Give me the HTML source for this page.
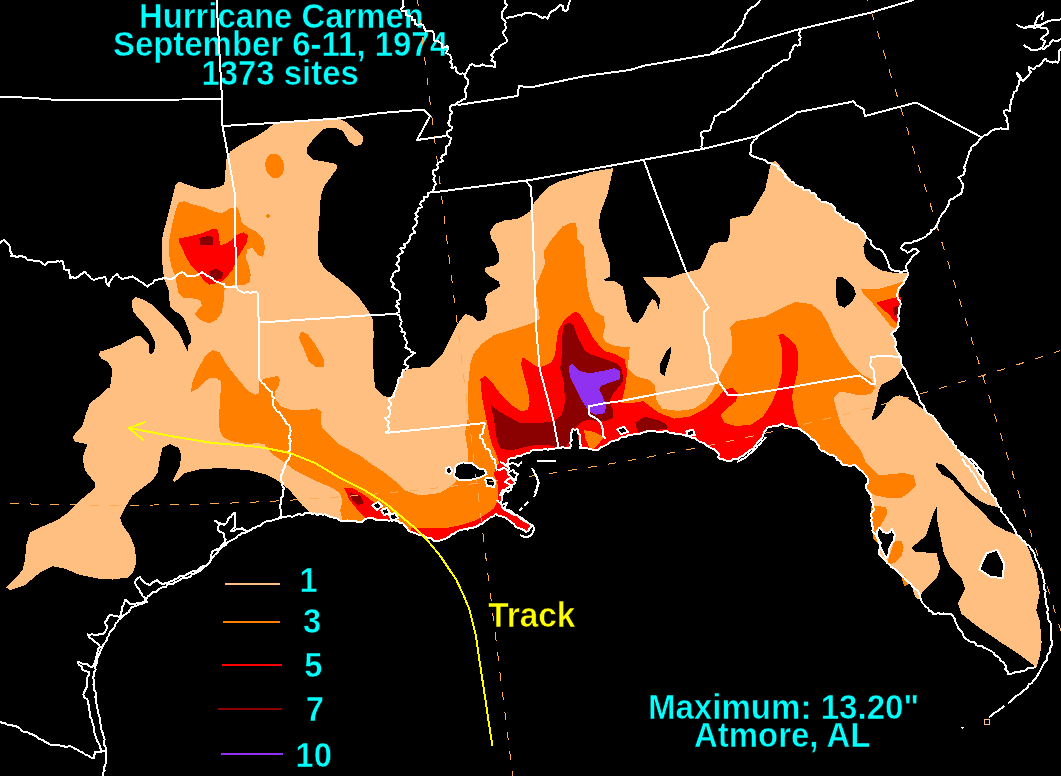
<!DOCTYPE html>
<html><head><meta charset="utf-8"><title>Hurricane Carmen rainfall</title>
<style>html,body{margin:0;padding:0;background:#000;}svg{display:block;} polygon,ellipse,polyline,line{shape-rendering:crispEdges;}text{font-family:'Liberation Sans',Arial,sans-serif;font-weight:bold;font-size:100px;}</style></head>
<body><svg width="1061" height="776" viewBox="0 0 1061 776">
<rect width="1061" height="776" fill="#000"/>
<polygon points="164.1,230.0 168.3,213.7 172.4,197.1 175.6,184.6 179.7,181.5 187.0,184.6 199.4,188.8 209.8,188.8 220.1,186.7 224.3,184.6 225.3,172.2 226.3,159.8 230.5,151.5 242.9,143.2 255.4,137.0 267.8,128.7 274.0,123.5 294.8,121.4 317.6,120.4 340.4,119.3 346.6,122.4 357.0,130.7 363.2,137.0 362.2,144.2 354.9,146.3 348.7,141.1 342.5,130.7 334.2,127.6 323.8,128.7 313.4,139.0 307.2,147.3 307.2,153.5 313.4,159.8 325.9,161.8 336.2,163.9 337.3,168.1 330.0,178.4 323.8,186.7 320.7,197.1 319.7,213.7 318.6,230.0 317.5,244.0 318.8,259.0 325.0,269.0 335.0,276.5 347.5,286.5 360.0,299.0 368.8,311.5 372.5,319.0 373.8,334.0 372.5,354.0 373.8,374.0 375.0,388.0 382.5,395.5 390.0,398.0 395.0,390.5 397.5,386.0 401.0,374.0 407.5,369.0 430.0,366.5 442.5,354.0 450.0,339.0 457.5,324.0 465.0,314.0 472.5,316.5 477.5,321.5 485.0,319.0 487.5,309.0 485.0,299.0 487.5,294.0 500.0,286.5 498.8,281.5 490.0,276.5 485.0,271.5 485.0,267.8 495.0,265.2 498.8,261.5 498.8,254.0 495.0,244.0 491.2,239.0 490.0,231.5 495.0,224.0 505.0,220.2 517.5,219.0 526.2,214.0 530.0,211.5 532.0,206.0 536.0,200.0 539.0,197.0 545.0,190.0 550.6,185.5 560.0,181.0 569.2,178.6 592.4,171.6 613.3,168.1 607.5,194.0 600.0,214.0 598.8,226.5 602.5,241.5 607.5,254.0 610.0,264.0 610.0,276.5 602.5,280.2 615.0,281.5 622.5,286.5 625.0,296.5 627.5,311.5 632.5,321.5 637.5,322.8 642.5,316.5 647.5,306.5 652.5,299.0 656.2,301.5 658.8,310.2 660.0,299.0 655.0,291.5 647.5,284.0 642.5,276.5 655.0,276.5 670.0,277.8 680.0,274.0 690.0,271.5 700.0,269.0 705.0,259.0 710.0,246.5 715.0,242.8 727.5,241.5 730.0,234.0 730.0,219.0 740.0,216.5 750.0,215.2 755.0,206.5 762.5,194.0 765.0,190.0 771.0,162.5 776.0,161.0 795.0,185.0 813.5,193.0 821.0,201.5 831.0,204.0 837.2,212.8 847.2,220.2 857.2,224.0 862.2,230.2 867.2,237.8 863.5,246.5 864.8,256.5 871.0,264.0 881.0,270.2 893.5,272.8 906.0,272.8 908.5,274.0 903.5,284.0 898.5,289.0 897.2,296.5 901.0,304.0 898.5,314.0 898.5,326.5 891.0,334.0 894.8,339.0 896.0,349.0 898.0,353.0 901.0,356.0 901.2,363.2 903.1,367.1 896.7,376.1 889.0,381.2 881.2,385.1 878.7,391.5 876.1,404.4 872.2,417.3 871.6,420.5 876.1,418.6 881.2,413.5 886.4,404.4 894.1,396.7 899.3,395.4 907.0,398.0 914.7,403.1 923.8,409.6 925.1,410.2 930.2,414.7 936.0,420.5 948.5,438.0 958.5,450.5 971.0,463.0 981.0,475.5 988.0,487.0 993.5,497.0 998.8,507.3 988.0,504.9 978.8,500.3 966.4,491.0 955.6,477.1 943.2,464.7 936.2,463.2 936.2,466.3 941.6,474.0 952.5,480.2 960.2,489.5 969.5,500.3 981.8,511.1 992.7,523.5 1006.6,531.2 1015.9,534.3 1021.0,538.0 1029.2,549.8 1036.3,571.1 1039.8,592.5 1036.3,610.3 1039.8,620.9 1041.6,642.3 1039.8,656.5 1036.3,667.2 1022.1,656.5 1000.7,642.3 979.4,628.0 961.6,613.8 958.0,603.1 965.2,588.9 961.6,578.2 950.9,567.6 943.8,553.4 940.3,535.6 936.7,517.8 936.7,507.1 933.1,514.2 926.0,535.6 915.4,544.5 911.1,548.0 915.4,551.6 936.7,553.4 940.3,567.6 936.7,578.2 929.6,585.4 922.5,592.5 918.9,599.6 915.0,597.0 911.8,585.4 901.1,574.7 893.5,568.0 886.0,560.5 878.5,553.0 881.0,543.0 873.5,533.0 871.0,520.5 873.5,508.0 871.0,495.5 866.0,488.0 868.5,480.5 863.5,473.0 856.0,465.5 843.5,465.5 833.5,455.5 821.0,450.5 818.5,445.5 813.3,439.9 807.5,434.1 797.8,428.3 788.2,426.3 780.4,424.4 774.7,426.3 766.9,428.3 763.1,436.0 755.3,445.7 745.7,453.4 736.0,459.2 728.3,461.1 720.5,459.2 716.7,451.5 707.0,445.7 697.3,439.9 687.7,436.0 678.0,434.1 664.5,431.2 645.1,432.1 635.5,434.1 620.0,437.9 615.0,440.5 605.0,445.5 595.0,450.5 580.0,448.0 570.0,448.0 557.5,448.0 545.0,449.2 535.0,450.0 526.3,453.4 517.3,456.1 508.2,459.7 508.2,474.1 511.9,477.7 515.5,483.1 510.0,486.8 506.4,488.6 501.9,495.8 501.0,503.0 502.8,508.4 510.0,512.0 519.1,517.4 526.3,521.0 531.7,526.4 526.3,531.9 519.1,528.2 511.9,522.8 504.6,517.4 495.6,513.8 490.2,517.4 484.8,521.0 479.4,524.6 472.2,528.2 459.5,530.1 454.1,533.7 445.1,539.1 434.3,540.9 423.5,535.5 410.8,531.9 405.0,526.0 397.5,521.0 385.0,520.0 370.0,518.0 360.0,521.8 340.0,520.5 327.5,515.5 310.0,513.0 302.5,505.5 290.0,490.5 277.5,480.5 265.0,474.2 250.0,470.5 237.5,469.2 220.0,468.0 200.0,469.2 185.0,473.0 175.0,481.8 172.5,480.5 180.0,465.5 181.2,455.5 178.8,448.0 170.0,444.2 162.5,448.0 160.0,458.0 157.5,473.0 152.5,480.5 142.5,488.0 132.5,495.5 125.0,508.0 120.0,518.0 122.5,525.0 130.0,535.5 135.0,548.0 136.2,563.0 133.0,572.0 127.5,577.5 112.5,579.5 100.0,578.8 80.0,575.0 65.0,568.8 52.5,566.2 40.0,572.5 25.0,585.0 10.0,590.0 6.2,587.5 15.0,578.8 22.5,570.0 25.0,560.0 26.2,545.0 30.0,532.5 40.0,527.5 57.5,520.0 67.5,513.0 80.0,500.5 95.0,488.0 95.0,483.0 85.0,470.5 82.5,458.0 85.0,450.5 87.5,444.2 75.0,441.8 72.5,436.8 82.5,425.5 86.2,413.0 90.0,403.0 100.0,395.5 107.5,388.0 110.0,388.0 112.5,369.0 107.5,361.5 101.4,358.8 98.3,354.1 100.4,351.5 110.7,348.4 121.1,344.3 131.5,338.1 137.7,335.5 140.8,336.0 145.0,340.1 148.6,344.3 149.1,352.6 150.1,354.6 153.2,352.6 155.3,346.4 154.3,340.1 149.1,329.8 141.8,321.5 133.5,312.1 131.5,303.8 132.5,299.7 135.6,297.1 143.9,299.7 152.2,304.9 162.6,315.3 170.9,323.5 179.2,332.9 183.3,342.2 187.5,351.0 188.5,345.3 191.1,342.2 191.1,337.0 188.5,329.8 184.3,319.4 180.2,314.2 172.9,310.0 169.8,305.9 168.8,290.4 164.6,280.0 163.0,271.0 161.5,253.0 162.2,238.0" fill="#FFBF80"/>
<polygon points="837.2,276.5 842.2,276.5 853.5,286.5 856.0,294.0 852.2,301.5 844.8,307.8 838.5,305.2 835.5,294.0 836.0,281.5" fill="#000"/>
<polygon points="660.6,362.5 666.4,350.9 671.2,346.1 670.3,356.7 666.4,368.3 664.5,376.1 659.6,372.2" fill="#000"/>
<polygon points="986.5,553.4 997.2,549.8 1004.3,564.0 1002.5,578.2 990.0,576.5 979.4,569.4 982.9,560.5" fill="#000"/>
<polygon points="178.5,202.6 183.9,201.2 192.9,204.4 203.7,207.1 214.5,211.6 221.8,213.5 230.8,208.0 237.1,207.1 239.8,213.5 241.6,222.5 248.8,227.9 256.0,231.5 263.2,238.7 265.0,247.7 263.2,256.8 257.8,255.0 252.4,247.7 247.0,249.5 246.1,258.6 248.8,265.8 250.6,274.8 249.7,282.0 245.2,284.7 236.2,284.7 227.2,286.5 223.6,291.0 223.6,301.9 221.8,312.7 216.3,319.9 209.1,323.5 200.1,319.9 194.7,314.5 198.3,309.1 201.9,305.5 200.1,300.0 191.1,298.2 183.9,298.2 178.5,292.8 176.6,283.8 174.8,274.8 171.2,265.8 169.4,256.8 168.5,244.1 171.2,229.7 173.0,220.7 175.7,209.8" fill="#FF8000"/>
<polygon points="301.2,331.5 307.5,334.0 315.0,344.0 323.8,359.0 323.8,366.5 315.0,366.5 308.8,361.5 303.8,349.0 298.8,337.8" fill="#FF8000"/>
<polygon points="190.8,392.2 192.6,381.3 198.0,368.7 205.3,356.1 212.5,349.8 219.7,352.5 226.9,365.1 234.1,374.1 241.3,383.1 248.6,391.3 255.8,394.9 259.4,392.2 258.5,381.3 264.8,378.6 277.4,375.9 280.1,379.5 278.3,386.8 274.7,392.2 275.6,399.4 281.0,406.6 291.9,410.2 306.3,410.2 317.1,408.4 321.6,412.0 320.7,422.8 322.5,428.2 329.7,435.5 340.0,445.0 360.0,455.5 370.0,463.0 385.0,473.0 397.5,483.0 405.0,490.5 420.0,495.5 440.0,493.0 452.5,485.5 462.5,473.0 467.5,460.5 467.5,448.0 465.0,433.0 467.5,420.5 468.0,408.0 468.5,381.0 470.2,363.9 473.6,353.8 482.1,343.6 493.9,335.1 510.9,330.0 530.0,324.0 540.0,319.0 537.5,301.5 535.0,289.0 540.0,276.5 545.0,264.0 543.8,251.5 550.0,241.5 562.5,226.5 570.0,222.8 576.2,222.8 577.5,239.0 583.8,246.5 585.0,264.0 587.5,286.5 590.0,299.0 595.0,311.5 603.8,316.5 605.0,326.5 602.5,336.5 605.0,341.5 612.5,345.2 622.9,347.0 629.7,347.1 627.7,368.3 635.5,376.1 649.0,379.9 654.8,385.7 656.7,401.2 662.5,408.9 678.0,410.9 693.5,408.9 705.1,401.2 712.8,389.6 718.6,378.0 724.4,366.4 732.1,352.9 732.1,339.3 730.2,327.7 736.0,321.0 750.0,319.0 765.0,316.5 780.0,309.0 795.0,302.0 811.0,304.0 821.0,311.5 828.5,324.0 833.5,336.5 841.0,349.0 851.0,364.0 861.0,374.0 871.0,379.0 875.0,388.0 871.0,394.0 859.3,395.4 847.7,392.8 840.0,391.5 833.5,398.0 836.0,408.0 841.0,425.5 850.0,437.0 861.0,450.5 866.0,463.0 878.5,475.5 891.0,474.2 903.5,473.0 913.5,475.5 916.0,485.5 908.5,493.0 901.0,498.0 888.5,498.0 876.0,495.5 871.0,493.0 866.0,488.0 868.5,480.5 863.5,473.0 856.0,465.5 843.5,465.5 833.5,455.5 821.0,450.5 818.5,445.5 813.3,439.9 807.5,434.1 797.8,428.3 788.2,426.3 780.4,424.4 774.7,426.3 766.9,428.3 763.1,436.0 755.3,445.7 745.7,453.4 736.0,459.2 728.3,461.1 720.5,459.2 716.7,451.5 707.0,445.7 697.3,439.9 687.7,436.0 678.0,434.1 664.5,431.2 645.1,432.1 635.5,434.1 620.0,437.9 615.0,440.5 605.0,445.5 595.0,450.5 580.0,448.0 570.0,448.0 557.5,448.0 545.0,449.2 535.0,450.0 526.3,453.4 517.3,456.1 508.2,459.7 508.2,474.1 511.9,477.7 515.5,483.1 510.0,486.8 506.4,488.6 501.9,495.8 501.0,503.0 502.8,508.4 510.0,512.0 519.1,517.4 526.3,521.0 531.7,526.4 526.3,531.9 519.1,528.2 511.9,522.8 504.6,517.4 495.6,513.8 490.2,517.4 484.8,521.0 479.4,524.6 472.2,528.2 459.5,530.1 454.1,533.7 445.1,539.1 434.3,540.9 423.5,535.5 410.8,531.9 405.0,526.0 397.5,521.0 385.0,520.0 370.0,518.0 360.0,521.8 342.5,520.5 340.0,510.5 342.5,500.5 340.0,493.0 332.5,488.0 315.0,480.5 295.0,470.5 284.0,462.0 273.8,455.3 268.4,449.9 264.8,444.5 255.8,442.7 248.6,444.5 239.5,442.7 230.5,440.9 223.3,437.3 219.7,430.0 218.8,419.2 219.7,406.6 220.6,392.2 220.6,381.3 216.1,377.7 210.7,377.7 205.3,381.3 198.0,388.6" fill="#FF8000"/>
<polygon points="861.0,289.0 878.5,289.0 896.0,284.0 906.0,280.2 901.0,287.8 898.5,294.0 901.0,301.5 898.5,324.0 897.2,329.0 891.0,326.5 881.0,314.0 871.0,301.5 863.5,294.0" fill="#FF8000"/>
<polygon points="870.5,505.5 886.0,507.0 887.5,513.2 884.4,519.4 880.5,525.6 878.2,533.3 882.9,539.5 884.4,545.7 878.2,544.2 873.6,539.5 872.0,528.7 870.5,517.9" fill="#FF8000"/>
<polygon points="893.7,541.1 901.4,541.1 903.7,547.3 901.4,556.6 895.2,562.8 887.5,564.3 889.0,556.6 892.1,548.8" fill="#FF8000"/>
<polygon points="901.0,575.0 906.0,577.0 908.0,585.0 904.0,586.0" fill="#FF8000"/>
<ellipse cx="274.7" cy="166" rx="9.3" ry="12.4" transform="rotate(-10 274.7 166)" fill="#FF8000"/>
<ellipse cx="267.8" cy="216" rx="2" ry="1.8" transform="rotate(0 267.8 216)" fill="#FF8000"/>
<polygon points="178.5,238.7 191.1,236.0 201.9,233.3 212.7,228.8 217.2,228.8 219.0,235.1 219.9,245.0 225.4,244.1 230.8,240.5 238.0,234.2 243.4,232.4 247.9,235.1 247.0,242.3 241.6,251.3 236.2,260.4 232.6,269.4 227.2,276.6 221.8,281.1 214.5,283.8 209.1,284.7 203.7,280.2 198.3,273.0 191.1,265.8 185.7,256.8 182.1,247.7 178.5,241.4" fill="#FF0000"/>
<polygon points="343.8,488.0 352.5,488.0 365.0,495.5 377.5,505.5 395.0,515.5 397.5,520.5 385.0,520.5 375.0,518.0 365.0,518.0 360.0,513.0 350.0,500.5" fill="#FF0000"/>
<polygon points="410.8,528.2 427.1,528.2 445.1,528.2 459.5,525.5 475.8,520.1 486.6,513.8 493.8,508.4 497.4,501.2 498.3,492.2 497.4,483.1 493.8,474.1 495.6,468.7 499.0,463.0 495.6,452.2 492.2,445.4 488.8,431.8 485.4,414.8 482.1,397.9 480.4,379.2 485.4,375.8 492.2,382.6 500.7,394.5 510.9,404.7 521.1,411.4 527.9,409.7 529.6,401.3 527.9,389.4 524.5,377.5 521.1,363.9 522.8,357.1 527.9,360.5 534.7,365.6 539.7,367.3 544.8,365.6 551.6,362.2 555.0,355.4 556.7,340.2 558.4,330.0 565.0,319.0 575.0,311.5 580.0,314.0 587.5,326.5 592.3,337.0 598.0,344.0 604.2,351.0 615.0,354.0 624.6,359.5 627.0,370.0 626.3,380.0 624.6,389.4 621.2,403.0 631.6,403.1 643.2,401.2 650.9,407.0 658.7,412.8 674.1,418.6 689.6,416.7 705.1,408.9 716.7,399.3 724.4,389.6 732.1,387.7 737.9,393.5 736.0,401.2 726.3,408.9 720.5,414.7 724.4,422.5 736.0,426.3 751.5,424.4 763.1,416.7 772.7,401.2 778.5,385.7 782.4,370.3 782.4,350.9 778.5,335.5 782.4,333.5 790.1,339.3 796.0,346.0 798.5,354.0 797.8,370.3 794.0,385.7 792.0,397.3 794.0,412.8 797.8,424.4 801.7,432.1 797.8,428.3 788.2,426.3 780.4,424.4 774.7,426.3 766.9,428.3 763.1,436.0 755.3,445.7 745.7,453.4 736.0,459.2 728.3,461.1 720.5,459.2 716.7,451.5 707.0,445.7 697.3,439.9 687.7,436.0 678.0,434.1 664.5,431.2 645.1,432.1 635.5,434.1 620.0,437.9 615.0,440.5 605.0,445.5 595.0,450.5 580.0,448.0 570.0,448.0 557.5,448.0 545.0,449.2 535.0,450.0 526.3,453.4 517.3,456.1 508.2,459.7 508.2,474.1 511.9,477.7 515.5,483.1 510.0,486.8 506.4,488.6 501.9,495.8 501.0,503.0 502.8,508.4 510.0,512.0 519.1,517.4 526.3,521.0 531.7,526.4 526.3,531.9 519.1,528.2 511.9,522.8 504.6,517.4 495.6,513.8 490.2,517.4 484.8,521.0 479.4,524.6 472.2,528.2 459.5,530.1 454.1,533.7 445.1,539.1 434.3,540.9 423.5,535.5 410.8,531.9" fill="#FF0000"/>
<polygon points="876.0,302.8 888.5,299.0 901.0,296.5 901.0,304.0 898.5,314.0 898.5,324.0 894.8,321.5 888.5,314.0 881.0,307.8" fill="#FF0000"/>
<polygon points="583.9,430.1 594.0,431.8 604.2,436.9 595.7,447.1 590.6,450.5 585.5,438.6" fill="#FF8000"/>
<polygon points="199.2,237.8 209.1,236.0 212.7,236.9 213.1,245.0 200.1,245.0" fill="#8B0000"/>
<polygon points="209.1,271.2 216.3,268.5 223.6,273.0 221.8,278.4 216.3,280.2 210.9,277.5" fill="#8B0000"/>
<polygon points="350.0,493.0 360.0,495.5 363.8,503.0 357.5,505.5 352.5,500.5" fill="#8B0000"/>
<polygon points="490.5,404.7 499.0,411.4 510.9,418.2 521.1,423.3 536.3,423.3 553.3,421.6 561.8,414.8 565.2,401.3 563.5,380.9 560.1,369.0 561.8,355.4 561.8,340.2 563.0,330.0 564.5,325.2 567.5,322.8 569.6,322.6 573.5,325.2 576.1,332.9 578.7,339.3 582.5,345.8 585.1,350.9 591.5,354.8 599.3,357.4 607.0,359.9 617.3,363.8 621.2,367.7 622.5,374.1 622.5,381.9 618.6,387.0 612.7,394.5 609.3,401.3 612.7,409.7 612.7,418.2 604.2,421.6 588.9,419.9 582.2,421.6 577.1,426.7 572.0,429.0 570.0,440.0 566.0,447.0 558.0,447.5 548.2,445.0 536.3,445.0 524.5,447.1 510.9,450.5 500.7,448.8 497.3,442.0 495.6,431.8 493.9,418.2" fill="#8B0000"/>
<polygon points="635.5,422.5 645.1,416.7 658.7,420.5 666.4,424.4 668.3,428.3 645.1,431.2 637.4,432.1" fill="#8B0000"/>
<polygon points="893.0,307.0 898.0,306.0 899.0,314.0 894.0,316.0" fill="#8B0000"/>
<polygon points="568.6,367.3 572.0,363.9 578.8,370.7 588.9,373.3 604.2,370.7 614.4,368.2 619.5,370.7 619.5,379.2 609.3,382.6 600.8,386.0 599.1,389.4 602.5,396.2 605.9,404.7 605.1,413.1 595.7,414.8 588.9,411.4 582.2,401.3 575.4,387.7 570.3,377.5" fill="#9030F0"/>
<polygon points="372.0,505.0 378.0,502.0 382.0,506.0 377.0,510.0" fill="#000"/>
<polygon points="381.0,510.0 387.0,508.0 390.0,513.0 384.0,515.0" fill="#000"/>
<polygon points="389.0,515.0 395.0,513.0 398.0,518.0 392.0,521.0" fill="#000"/>
<polygon points="617.0,429.0 624.0,427.0 628.0,432.0 621.0,434.0" fill="#000"/>
<polygon points="686.0,431.0 693.0,430.0 695.0,435.0 688.0,436.0" fill="#000"/>
<polygon points="455.9,465.1 463.1,462.4 472.2,463.3 479.4,468.7 484.8,469.6 486.6,474.1 479.4,477.7 472.2,479.5 459.5,480.4 454.1,475.9" fill="#000"/>
<polygon points="445.5,468.0 450.0,467.0 452.3,471.0 450.0,474.1 446.0,473.0" fill="#000"/>
<polygon points="485.0,478.5 492.0,478.0 495.6,482.0 494.0,486.8 487.0,486.0" fill="#000"/>
<polygon points="879.8,527.1 882.9,531.8 887.5,533.3 892.1,528.7 895.2,534.9 893.7,541.1 890.6,545.7 889.0,551.9 886.0,558.1 884.4,555.0 881.3,548.8 878.2,541.1 876.7,531.8" fill="#000"/>
<polygon points="572.0,428.4 577.1,430.1 578.8,442.0 582.2,448.8 572.0,452.2 568.6,448.8 572.0,435.2" fill="#000"/>
<text transform="translate(139.05,28.00) scale(0.3284,0.352)" fill="#00FFFF" stroke="#000" stroke-width="1.5">Hurricane Carmen</text>
<text transform="translate(112.95,55.60) scale(0.3294,0.352)" fill="#00FFFF" stroke="#000" stroke-width="1.5">September 6-11, 1974</text>
<text transform="translate(201.39,85.00) scale(0.3292,0.352)" fill="#00FFFF" stroke="#000" stroke-width="1.5">1373 sites</text>
<text transform="translate(647.89,719.10) scale(0.3309,0.352)" fill="#00FFFF" stroke="#000" stroke-width="1.5">Maximum: 13.20&quot;</text>
<text transform="translate(693.93,747.10) scale(0.3298,0.352)" fill="#00FFFF" stroke="#000" stroke-width="1.5">Atmore, AL</text>
<text transform="translate(488.16,626.80) scale(0.3339,0.352)" fill="#FFFF00" stroke="#000" stroke-width="1.5">Track</text>
<text transform="translate(299.40,592.00) scale(0.3270,0.352)" fill="#00FFFF" stroke="#000" stroke-width="1.5">1</text>
<text transform="translate(303.07,632.70) scale(0.3270,0.352)" fill="#00FFFF" stroke="#000" stroke-width="1.5">3</text>
<text transform="translate(304.14,676.50) scale(0.3270,0.352)" fill="#00FFFF" stroke="#000" stroke-width="1.5">5</text>
<text transform="translate(305.84,720.80) scale(0.3270,0.352)" fill="#00FFFF" stroke="#000" stroke-width="1.5">7</text>
<text transform="translate(295.52,766.80) scale(0.3270,0.352)" fill="#00FFFF" stroke="#000" stroke-width="1.5">10</text>
<polyline points="417.5,0.0 512.7,776.0" fill="none" stroke="#FFAA55" stroke-width="1" stroke-linejoin="round" stroke-dasharray="8.5 11.5" stroke-dashoffset="2.9"/>
<polyline points="867.8,0.0 1061.0,631.4" fill="none" stroke="#FFAA55" stroke-width="1" stroke-linejoin="round" stroke-dasharray="8.5 11.5" stroke-dashoffset="7.3"/>
<polyline points="10.2,503.3 16.0,503.5 22.0,503.7 28.0,503.9 34.0,504.1 40.0,504.2 46.0,504.4 52.0,504.5 58.0,504.7 64.0,504.8 70.0,504.9 76.0,505.0 82.0,505.0 88.0,505.1 94.0,505.2 100.0,505.2 106.0,505.2 112.0,505.2 118.0,505.2 124.0,505.2 130.0,505.2 136.0,505.2 142.0,505.1 148.0,505.1 154.0,505.0 160.0,504.9 166.0,504.9 172.0,504.7 178.0,504.6 184.0,504.5 190.0,504.4 196.0,504.2 202.0,504.0 208.0,503.9 214.0,503.7 220.0,503.5 226.0,503.3 232.0,503.0 238.0,502.8 244.0,502.5 250.0,502.3 256.0,502.0 262.0,501.7 268.0,501.4 274.0,501.1 280.0,500.8 286.0,500.4 292.0,500.1 298.0,499.7 304.0,499.3 310.0,499.0 316.0,498.6 322.0,498.2 328.0,497.7 334.0,497.3 340.0,496.8 346.0,496.4 352.0,495.9 358.0,495.4 364.0,494.9 370.0,494.4 376.0,493.9 382.0,493.4 388.0,492.8 394.0,492.3 400.0,491.7 406.0,491.1 412.0,490.5 418.0,489.9 424.0,489.3 430.0,488.6 436.0,488.0 442.0,487.3 448.0,486.7 454.0,486.0 460.0,485.3 466.0,484.6 472.0,483.9 478.0,483.1 484.0,482.4 490.0,481.6 496.0,480.9 502.0,480.1 508.0,479.3 514.0,478.5 520.0,477.7 526.0,476.8 532.0,476.0 538.0,475.1 544.0,474.3 550.0,473.4 556.0,472.5 562.0,471.6 568.0,470.6 574.0,469.7 580.0,468.8 586.0,467.8 592.0,466.8 598.0,465.9 604.0,464.9 610.0,463.8 616.0,462.8 622.0,461.8 628.0,460.7 634.0,459.7 640.0,458.6 646.0,457.5 652.0,456.4 658.0,455.3 664.0,454.2 670.0,453.1 676.0,451.9 682.0,450.7 688.0,449.6 694.0,448.4 700.0,447.2 706.0,446.0 712.0,444.7 718.0,443.5 724.0,442.2 730.0,441.0 736.0,439.7 742.0,438.4 748.0,437.1 754.0,435.8 760.0,434.4 766.0,433.1 772.0,431.7 778.0,430.4 784.0,429.0 790.0,427.6 796.0,426.2 802.0,424.7 808.0,423.3 814.0,421.9 820.0,420.4 826.0,418.9 832.0,417.4 838.0,415.9 844.0,414.4 850.0,412.9 856.0,411.3 862.0,409.8 868.0,408.2 874.0,406.6 880.0,405.0 886.0,403.4 892.0,401.8 898.0,400.1 904.0,398.5 910.0,396.8 916.0,395.1 922.0,393.4 928.0,391.7 934.0,390.0 940.0,388.3 946.0,386.5 952.0,384.8 958.0,383.0 964.0,381.2 970.0,379.4 976.0,377.6 982.0,375.8 988.0,373.9 994.0,372.0 1000.0,370.2 1006.0,368.3 1012.0,366.4 1018.0,364.5 1024.0,362.5 1030.0,360.6 1036.0,358.6 1042.0,356.7 1048.0,354.7 1054.0,352.7 1060.0,350.7" fill="none" stroke="#FFAA55" stroke-width="1" stroke-linejoin="round" stroke-dasharray="8.5 11.5"/>
<polyline points="0.0,96.5 32.5,98.0 57.5,100.0 182.5,99.5 222.0,98.7" fill="none" stroke="#FFFFFF" stroke-width="2" stroke-linejoin="round"/>
<polyline points="216.5,0.0 222.0,98.7 222.5,126.0 228.4,157.7 234.6,192.9 235.3,230.0 236.0,284.0 236.2,287.4" fill="none" stroke="#FFFFFF" stroke-width="2" stroke-linejoin="round"/>
<polyline points="222.5,126.0 274.0,122.9 340.4,118.3 380.0,113.1 424.0,109.5 430.0,116.0 422.5,130.0 417.0,140.0 446.0,136.0" fill="none" stroke="#FFFFFF" stroke-width="2" stroke-linejoin="round"/>
<polyline points="0.0,244.0 1.5,241.6 3.8,240.0 5.8,242.2 8.1,244.2 10.0,246.5 10.1,249.0 10.4,251.5 11.8,253.9 11.2,256.5 14.1,255.5 16.9,257.2 19.7,256.0 22.5,256.5 25.2,257.2 27.1,259.7 30.0,260.0 32.5,260.3 34.9,261.4 37.5,261.1 40.0,261.5 42.3,263.5 45.0,265.0 47.1,262.7 50.0,261.5 52.5,261.7 55.0,262.0 57.5,261.2 60.0,261.6 62.5,261.0 62.6,263.7 64.2,266.2 63.8,269.0 66.1,270.0 68.8,270.0 69.0,272.7 70.0,275.3 70.0,278.0 72.5,277.1 75.0,278.0 77.9,277.0 80.0,274.7 82.7,273.5 85.0,271.5 86.7,274.2 89.1,276.1 91.0,278.5 93.8,280.0 96.8,278.8 100.0,278.0 102.7,277.8 105.0,276.5 106.0,279.0 106.1,281.8 107.1,284.3 108.8,286.5 109.2,283.0 111.2,280.0 112.8,277.5 115.0,275.6 117.5,274.0 119.3,277.2 122.5,279.0 125.0,278.3 127.6,278.0 129.9,276.7 132.5,276.5 135.0,278.2 137.6,279.6 140.0,281.5 142.7,282.9 144.9,285.0 147.5,286.5 150.1,284.5 153.0,282.8 155.0,280.0 158.1,279.5 161.2,279.2 164.0,277.5 166.9,278.5 169.9,279.1 173.0,278.4 176.0,276.4 178.5,273.9 182.1,272.1 184.8,273.4 186.6,275.7 189.6,276.2 192.5,276.2 195.4,275.8 198.3,274.8 201.9,272.1 204.2,273.7 206.5,275.5 209.1,276.6 212.2,278.4 214.5,281.1 218.1,282.0 220.6,283.5 223.6,283.8 225.4,287.4 228.1,287.5 230.8,287.0 233.5,286.5 236.2,287.4 238.4,290.2 241.6,291.9 244.2,293.0 247.0,291.4 249.7,293.0 252.4,292.3 255.1,292.0 257.8,292.8" fill="none" stroke="#FFFFFF" stroke-width="2" stroke-linejoin="round"/>
<polyline points="257.8,292.8 258.7,322.6 259.4,379.5" fill="none" stroke="#FFFFFF" stroke-width="2" stroke-linejoin="round"/>
<polyline points="259.4,379.5 261.1,381.5 262.8,383.5 265.0,385.0 266.3,387.2 267.9,389.2 269.9,390.7 272.0,392.2 271.5,395.2 273.7,397.8 273.1,400.8 272.6,403.8 273.8,406.6 275.4,409.0 276.8,411.4 279.8,412.6 281.0,415.2 282.8,417.4 284.7,419.3 285.6,421.8 287.0,424.0 289.4,425.5 290.0,428.2 290.6,430.8 290.4,433.4 289.2,436.0 289.5,438.5 290.7,441.1 289.4,443.7 290.0,446.3 290.4,449.1 289.0,451.7 289.7,454.6 289.5,457.4 288.2,460.0 286.0,462.4 285.0,465.5 284.3,468.3 282.5,470.5 282.6,473.1 280.7,475.3 281.2,478.0 281.2,480.7 282.9,482.9 282.2,485.7 283.8,488.0 283.3,490.5 282.6,492.9 283.1,495.6 281.2,497.9 281.3,500.4 281.2,503.0 280.1,505.4 280.0,507.9 281.0,510.5 280.7,513.0 280.9,515.6 280.0,518.0" fill="none" stroke="#FFFFFF" stroke-width="2" stroke-linejoin="round"/>
<polyline points="258.7,322.6 370.0,315.2 396.2,314.0" fill="none" stroke="#FFFFFF" stroke-width="2" stroke-linejoin="round"/>
<polyline points="402.5,0.0 403.0,3.2 403.6,6.3 401.0,9.0 402.1,11.5 406.4,11.0 406.1,14.8 408.6,16.0 411.7,16.6 411.5,20.3 415.3,20.2 415.0,24.0 417.5,24.8 420.8,24.0 423.1,25.3 424.5,28.3 425.8,31.6 429.0,31.0 432.5,31.4 433.9,33.7 433.9,37.3 434.4,40.5 437.8,40.9 440.0,42.5 442.3,43.9 441.7,48.3 447.5,46.2 447.5,50.0 445.9,52.9 449.7,54.8 451.1,57.1 451.7,59.6 450.0,62.5 452.4,63.8 451.5,67.6 456.0,67.4 455.6,70.8 457.5,72.5 459.7,74.1 462.7,73.4 465.0,75.0 464.9,77.5 468.0,79.8 468.2,82.3 467.6,84.9 466.0,87.5 464.7,90.3 465.9,93.3 466.4,96.2 465.0,99.0 462.3,99.7 460.1,101.6 457.5,102.5 455.2,104.8 452.0,105.0 449.9,107.2 450.0,109.8 452.3,112.7 450.0,114.9 450.0,117.5 450.0,120.0 448.2,122.7 449.2,125.1 452.1,127.4 451.0,130.0 446.8,131.5 447.5,136.0 450.9,138.1 450.0,142.0 449.1,144.9 446.0,146.6 446.0,150.0 446.1,153.8 442.7,155.4 441.0,158.0 442.9,161.3 438.5,162.7 437.2,165.0 438.0,168.0 436.0,169.7 432.9,170.6 433.0,174.0 434.8,176.2 433.4,179.3 434.7,181.7 436.0,184.0 434.2,186.5 433.6,189.5 432.0,192.0 428.3,192.8 427.5,196.5 423.7,196.5 423.9,200.4 421.2,201.4 420.0,204.0 422.1,207.0 417.8,208.8 417.6,211.3 415.1,213.4 417.5,216.5 415.0,218.5 417.5,221.8 416.3,224.2 415.0,226.5 412.8,228.5 415.1,232.8 411.5,234.1 410.0,236.5 409.4,240.3 407.6,243.0 403.8,244.0 405.3,247.4 400.4,248.4 403.0,252.3 400.0,254.0 397.5,256.5 399.3,258.8 398.8,261.4 396.2,264.3 398.8,266.5 398.6,270.6 394.8,271.7 392.5,274.0 392.5,276.5 390.8,279.3 391.5,281.7 393.8,284.0 392.3,287.0 395.0,289.0 398.4,290.6 400.0,294.0 400.2,296.6 400.2,299.1 396.8,301.2 398.8,304.0 395.5,305.8 399.5,309.5 398.8,312.0 396.2,314.0 399.4,315.5 400.0,319.0 401.8,321.3 400.6,324.0 400.2,326.6 402.4,328.9 401.2,331.5 405.2,332.7 404.2,336.3 405.0,339.0 406.7,341.2 406.5,344.1 405.3,347.5 408.8,349.0 411.3,351.9 415.0,352.8 412.4,354.6 410.0,356.5 407.0,358.5 405.0,361.5 404.4,364.2 408.5,366.1 406.2,369.0 402.9,370.4 402.2,373.2 402.5,376.5 399.0,377.8 397.7,380.5 397.5,384.0 396.2,388.0 395.2,390.8 393.6,393.3 393.6,396.8 390.0,398.0 388.6,400.3 391.3,403.6 390.6,406.1 387.5,408.0 390.3,409.7 390.0,413.0 388.9,416.9 385.0,418.0 386.7,420.2 389.2,422.2 387.5,425.5 389.5,428.9 387.8,431.2 385.0,433.0" fill="none" stroke="#FFFFFF" stroke-width="2" stroke-linejoin="round"/>
<polyline points="385.0,433.0 485.0,423.0" fill="none" stroke="#FFFFFF" stroke-width="2" stroke-linejoin="round"/>
<polyline points="485.0,423.0 484.3,425.5 483.7,428.1 482.5,430.5 482.7,433.3 479.8,435.2 480.0,438.0 482.9,439.7 483.3,443.0 485.0,445.5 485.7,448.7 489.4,449.8 490.0,453.0 491.1,455.6 492.2,458.2 495.0,459.9 495.0,463.0 496.2,465.4 496.1,468.2 497.5,470.5" fill="none" stroke="#FFFFFF" stroke-width="2" stroke-linejoin="round"/>
<polyline points="465.0,75.0 466.4,72.6 467.3,69.9 469.0,67.6 470.0,65.0 472.5,64.2 475.0,66.1 477.5,66.2 480.0,65.8 482.5,64.4 485.0,65.5 487.5,66.1 490.1,66.0 492.6,66.3 495.0,67.5 495.5,64.6 494.8,62.0 491.3,60.4 492.8,57.2 491.0,55.0 493.0,53.4 494.3,51.1 495.9,49.1 498.6,48.2 500.0,46.0 502.4,44.2 505.3,43.1 507.5,41.0 506.0,37.7 503.8,35.0 503.0,32.4 505.2,30.1 506.1,27.7 505.0,25.0 505.7,22.2 504.1,19.9 501.8,17.8 502.5,15.0 502.3,11.9 503.8,9.5 506.0,7.5 507.0,4.8 504.7,2.6 505.0,0.0" fill="none" stroke="#FFFFFF" stroke-width="2" stroke-linejoin="round"/>
<polyline points="506.0,18.0 509.0,17.4 512.0,17.0 515.1,16.2 518.0,15.0 521.3,15.6 524.0,13.6 527.0,13.1 530.0,12.5 532.4,13.7 535.3,13.5 537.5,15.3 539.9,16.6 542.2,18.0 545.4,16.9 547.5,19.0 548.7,16.0 549.8,13.0 552.5,11.0 555.6,9.7 557.9,7.5 560.0,5.0 563.0,6.0 563.0,10.0 566.0,11.0 568.3,8.7 568.4,5.7 569.3,2.9 570.0,0.0" fill="none" stroke="#FFFFFF" stroke-width="2" stroke-linejoin="round"/>
<polyline points="457.5,105.0 517.5,96.0 519.0,86.0 530.0,87.5 585.0,76.0 630.0,70.0 645.0,65.5 710.0,54.5 787.5,32.5 796.0,30.0 871.0,12.5 913.5,0.0" fill="none" stroke="#FFFFFF" stroke-width="2" stroke-linejoin="round"/>
<polyline points="710.0,54.5 712.2,52.3 715.3,51.4 717.8,49.6 720.0,47.5 722.6,46.8 723.7,44.0 725.9,42.7 727.9,41.1 730.0,39.9 732.5,39.0 734.6,36.6 735.1,33.2 737.5,31.0 739.2,29.0 740.3,26.6 742.5,25.0 742.6,22.4 743.6,20.0 745.2,17.7 745.0,15.0 747.1,13.3 747.9,10.4 750.2,9.0 751.9,6.9 755.0,6.3 756.8,4.3 758.6,2.4 760.0,0.0" fill="none" stroke="#FFFFFF" stroke-width="2" stroke-linejoin="round"/>
<polyline points="702.5,149.0 701.3,146.3 702.5,143.5 702.1,140.7 702.6,137.9 700.7,135.3 701.0,132.5 703.8,131.1 707.2,131.4 710.0,130.0 711.4,127.3 711.6,124.2 713.4,121.7 713.8,118.7 715.0,116.0 717.8,115.4 719.6,112.8 722.2,111.9 725.4,112.2 727.4,109.9 730.0,109.0 731.6,106.8 734.5,105.9 736.2,103.8 737.4,101.2 740.0,100.0 741.9,98.3 743.8,96.7 744.8,94.1 747.4,93.1 748.3,90.4 750.4,89.0 752.5,87.5 753.5,84.7 755.5,82.8 758.7,81.8 759.5,78.8 762.3,77.5 763.1,74.5 765.0,72.5 767.3,71.3 769.8,70.4 771.7,68.6 773.1,66.0 775.8,65.5 778.0,64.2 780.0,62.5 782.3,60.9 784.7,59.9 787.5,60.0 789.6,57.9 790.0,55.0 790.6,52.2 792.4,49.9 793.1,47.2 795.0,45.0 797.5,45.7 800.0,45.0 800.0,42.5 799.0,40.0 800.8,37.5 799.0,35.0 799.5,32.5 800.0,30.0" fill="none" stroke="#FFFFFF" stroke-width="2" stroke-linejoin="round"/>
<polyline points="432.0,192.5 530.0,180.0 642.5,160.0 702.5,149.0 757.5,136.0 795.0,114.0 796.0,112.5 848.5,102.5 853.5,101.0 856.0,105.0 863.5,109.0 865.0,116.0 916.0,102.5 982.0,137.5" fill="none" stroke="#FFFFFF" stroke-width="2" stroke-linejoin="round"/>
<polyline points="526.3,181.5 531.0,187.0 532.0,206.5 535.0,294.0 536.3,330.0 539.7,369.0 553.3,419.9 558.4,447.1 561.8,448.8" fill="none" stroke="#FFFFFF" stroke-width="2" stroke-linejoin="round"/>
<polyline points="643.8,160.0 656.2,194.0 686.2,271.5 690.0,279.0 695.3,287.0 702.5,296.5 705.0,302.0 708.7,307.9 703.8,312.0 703.8,334.0 708.9,347.1 710.9,368.3 716.7,374.1 718.6,381.9 724.4,389.6 728.3,395.4 737.9,395.4" fill="none" stroke="#FFFFFF" stroke-width="2" stroke-linejoin="round"/>
<polyline points="588.9,414.8 588.9,406.3 605.9,403.0 620.0,401.2 658.7,393.5 712.8,383.8 720.5,381.9" fill="none" stroke="#FFFFFF" stroke-width="2" stroke-linejoin="round"/>
<polyline points="588.9,414.8 595.7,418.2 600.8,422.5 602.5,428.4 602.5,435.2 605.9,438.6" fill="none" stroke="#FFFFFF" stroke-width="2" stroke-linejoin="round"/>
<polyline points="737.9,395.4 770.8,390.6 788.2,387.7 820.0,381.9 840.0,378.7 859.3,375.4 864.5,378.7 870.9,383.8 874.8,383.8 874.1,370.9 870.3,365.8 870.9,356.8 882.5,356.1 900.6,356.8" fill="none" stroke="#FFFFFF" stroke-width="2" stroke-linejoin="round"/>
<polyline points="757.5,136.0 756.5,138.7 753.9,140.2 752.4,142.6 751.0,145.0 750.7,148.0 751.0,151.1 750.0,154.0 752.2,155.8 754.7,157.1 757.5,157.7 760.0,158.9 762.8,159.5 765.5,160.2 767.5,162.5 770.1,163.0 772.4,164.4 775.0,165.0 777.5,166.1 778.1,169.1 780.9,170.0 782.7,171.8 784.9,173.3 785.1,176.8 787.3,178.1 788.9,180.2 791.2,181.6 794.0,182.4 795.0,185.0 797.5,185.6 799.6,187.0 802.3,187.2 803.8,190.0 806.7,189.7 809.2,190.2 810.9,192.7 813.5,193.0 816.1,194.5 816.5,197.9 819.2,199.3 821.0,201.5 823.5,202.2 826.1,202.4 828.5,203.3 831.0,204.0 833.2,205.8 835.0,207.7 835.0,211.1 837.2,212.8 839.6,213.7 840.8,216.3 843.7,216.7 844.6,219.7 847.2,220.2 849.4,222.1 852.0,222.7 854.5,223.7 857.2,224.0 858.8,226.2 860.2,228.5 862.2,230.2 864.5,231.9 865.4,234.6 866.3,237.3 868.5,239.0 870.8,241.1 871.0,244.6 873.5,246.5 875.6,248.5 878.6,248.6 881.0,250.0 883.1,252.3 884.8,255.0 886.1,258.0 887.5,260.9 888.5,264.0 889.4,267.7 892.2,270.2 895.2,270.8 898.4,270.8 901.0,272.8 903.3,271.2 906.0,271.5" fill="none" stroke="#FFFFFF" stroke-width="2" stroke-linejoin="round"/>
<polyline points="1061.0,48.3 1059.0,51.1 1058.8,54.5 1059.1,57.3 1059.0,60.1 1057.7,62.7 1055.1,61.4 1052.2,62.7 1049.5,61.7 1047.0,60.8 1045.4,58.6 1043.1,61.0 1041.2,63.8 1039.0,65.8 1035.9,66.6 1034.0,68.9 1031.3,68.4 1028.9,66.9 1029.0,69.8 1030.9,72.0 1029.1,74.8 1026.8,77.2 1024.6,79.1 1022.7,81.3 1020.6,77.2 1019.2,74.5 1016.5,73.0 1018.2,76.2 1020.6,79.0 1018.7,81.7 1018.5,85.0 1016.9,87.3 1016.8,90.4 1014.1,92.2 1013.3,94.9 1012.6,97.7 1011.0,100.0 1011.4,102.8 1009.8,105.4 1010.1,108.2 1010.0,111.0 1006.8,110.1 1003.5,111.0 1004.8,114.5 1007.0,117.5 1006.5,120.5 1007.6,123.3 1007.7,126.2 1008.5,129.0 1006.0,128.8 1003.5,129.5 1001.0,128.1 998.5,129.4 996.0,129.0 993.4,129.9 990.9,131.1 988.8,133.0 987.0,135.3 984.0,135.5 982.0,137.5 979.6,139.3 978.0,142.0 976.0,144.2 973.2,145.5 971.0,147.5 971.1,150.3 968.5,152.2 968.5,155.0 967.6,157.5 967.0,160.1 966.0,162.5 965.2,164.9 964.2,167.3 964.9,170.1 964.2,172.5 963.5,175.0 960.9,176.1 958.5,177.5 960.5,179.8 961.7,182.6 963.5,185.0 962.6,188.0 962.0,191.0 961.0,194.0 958.3,194.9 956.0,196.4 953.9,198.5 951.0,199.0 948.9,201.1 948.8,204.1 947.4,206.6 946.0,209.0 944.5,211.6 942.0,213.5 941.0,216.5 938.9,218.6 938.5,221.5 937.4,224.1 936.0,226.5 934.6,229.1 931.4,229.9 930.5,233.0 927.9,234.4 926.0,236.5 923.6,237.8 921.1,238.8 918.6,239.8 916.2,241.1 913.5,241.5 911.2,243.0 908.5,242.7 905.9,242.8 903.5,244.0 901.0,247.8 902.9,249.6 905.5,250.6 907.2,252.8 910.6,251.2 913.5,249.0 916.4,249.4 918.5,251.5 916.8,253.5 914.3,254.8 912.3,256.5 911.0,259.0 909.4,261.5 907.1,263.6 906.0,266.5 906.6,269.0 907.2,271.5 908.5,274.0 907.2,276.5 905.8,278.9 903.9,281.1 903.5,284.0 900.7,286.2 898.5,289.0 898.1,291.5 897.2,293.9 897.2,296.5 898.2,299.1 900.0,301.4 901.0,304.0 899.8,306.4 899.1,308.8 898.9,311.4 898.5,314.0 897.6,316.5 899.5,319.0 898.5,321.5 898.2,324.0 898.5,326.5 896.9,328.6 895.2,330.7 892.6,331.9 891.0,334.0 893.0,336.4 894.8,339.0 895.5,341.4 896.3,343.9 894.8,346.6 896.0,349.0 898.0,353.0 900.6,356.8 901.2,360.0 901.2,363.2 903.1,367.1 905.1,369.1 906.2,371.5 907.4,373.9 907.7,376.9 910.2,378.5 910.9,381.2 912.6,383.6 914.2,386.0 914.8,388.9 916.5,391.3 917.3,394.1 918.7,396.3 919.1,398.9 919.9,401.4 921.2,403.6 923.7,405.2 924.2,407.8 925.1,410.2 927.2,413.0 930.2,414.7 932.8,416.0 934.5,418.1 936.0,420.5 937.6,422.7 939.3,424.7 940.3,427.4 941.9,429.5 943.9,431.4 945.8,433.3 947.4,435.5 948.5,438.0 950.5,439.8 952.5,441.6 953.2,444.5 955.7,445.9 956.2,448.9 958.5,450.5 960.1,452.5 962.7,453.4 963.9,455.9 965.5,457.8 968.1,458.8 969.2,461.2 971.0,463.0 973.4,464.5 973.9,467.5 976.8,468.6 977.5,471.5 978.6,474.0 981.0,475.5 981.8,478.2 984.3,479.8 985.1,482.4 987.2,484.3 988.0,487.0 989.7,489.3 990.1,492.4 991.6,494.8 993.5,497.0 995.7,498.9 996.4,501.6 997.2,504.3 998.8,506.5 1000.9,508.3 1001.4,511.2 1002.8,513.4 1005.0,515.2 1006.6,517.3 1008.2,519.4 1008.7,522.1 1010.6,524.0 1012.4,525.8 1013.6,528.1 1015.2,530.2 1015.9,532.8 1017.3,535.1 1019.6,536.5 1021.1,538.6 1022.8,540.6 1025.1,542.0 1026.2,544.6 1029.2,545.6 1030.6,548.0 1032.8,551.0 1034.7,554.2 1035.1,557.4 1036.4,560.3 1038.0,563.0 1039.1,565.5 1039.5,568.2 1041.3,570.4 1042.2,572.9 1043.3,575.4 1043.4,578.2 1044.0,580.8 1044.6,583.3 1044.3,586.0 1043.8,588.7 1045.7,591.1 1045.2,593.8 1045.0,596.4 1045.8,599.0 1046.3,601.5 1046.1,604.2 1047.0,606.7 1048.4,609.2 1047.0,612.2 1047.9,614.7 1048.1,617.4 1048.5,620.1 1050.4,622.5 1050.9,625.2 1050.5,628.0 1051.5,630.8 1051.2,633.7 1050.7,636.7 1051.1,639.5 1052.3,642.3 1051.7,644.9 1050.6,647.3 1049.6,649.7 1049.6,652.5 1047.6,654.7 1046.9,657.2 1047.0,660.0 1045.2,662.0 1043.5,664.0 1042.3,666.3 1041.1,668.6 1040.0,671.0 1038.5,673.7 1036.9,676.3 1035.2,678.8 1033.0,681.0 1031.8,683.4 1028.8,684.0 1027.9,686.7 1026.5,688.9 1024.0,690.0 1022.0,692.0 1020.0,694.1 1017.3,695.3 1015.0,697.0 1012.9,699.3 1010.8,701.5 1008.0,703.0" fill="none" stroke="#FFFFFF" stroke-width="2" stroke-linejoin="round"/>
<polyline points="1016.5,24.1 1018.6,25.9 1021.0,27.1 1023.7,27.7 1026.4,27.8 1028.7,26.0 1031.5,26.3 1034.0,25.6 1037.6,25.0 1041.2,24.6 1044.3,23.1 1047.4,21.5 1050.1,20.6 1052.9,20.3 1055.7,20.5 1058.3,19.9 1061.0,19.4" fill="none" stroke="#FFFFFF" stroke-width="2" stroke-linejoin="round"/>
<polyline points="1035.0,24.0 1037.0,18.4 1043.3,12.2 1042.0,20.0" fill="none" stroke="#FFFFFF" stroke-width="2" stroke-linejoin="round"/>
<polyline points="1023.7,27.7 1027.3,27.0 1030.9,26.6 1033.4,27.5 1036.0,27.5 1038.7,26.7 1041.2,27.9 1043.8,27.7 1046.4,27.7 1048.5,31.8 1046.9,34.4 1044.3,35.9 1041.2,39.0 1045.4,41.1 1043.7,43.4 1043.3,46.2 1041.5,48.1 1039.2,49.3 1035.6,50.2 1032.0,50.4 1029.9,49.1 1027.9,47.4 1025.4,46.6 1023.7,44.7" fill="none" stroke="#FFFFFF" stroke-width="2" stroke-linejoin="round"/>
<polyline points="1042.3,49.3 1044.9,48.3 1046.9,46.2 1049.5,45.2 1050.6,42.4 1052.6,40.1 1055.1,40.8 1057.7,41.1 1061.0,39.0" fill="none" stroke="#FFFFFF" stroke-width="2" stroke-linejoin="round"/>
<polyline points="1036.3,667.2 1033.4,667.6 1030.5,668.2 1027.6,668.4 1025.1,670.6 1022.1,670.7 1019.5,672.3 1016.2,671.5 1013.6,673.2 1010.7,673.8 1007.8,674.3 1007.5,671.4 1005.4,669.1 1006.0,666.0 1004.3,663.6 1002.5,661.8 1000.1,660.6 999.5,657.7 997.3,656.4 994.8,655.3 993.6,652.9 991.5,651.1 989.1,650.0 986.7,648.9 984.3,647.9 982.2,646.1 979.4,645.8 976.6,645.5 975.1,642.6 972.4,642.0 969.7,641.5 967.7,639.7 965.2,638.7 963.6,636.6 962.9,634.0 961.7,631.7 960.0,629.6 958.0,627.8 957.2,625.2 955.8,623.1 955.2,620.3 954.2,617.9 952.7,615.8 950.9,613.8 948.4,613.7 945.8,614.5 943.3,613.4 940.7,614.3 938.2,612.8 935.6,614.5 933.1,613.8 932.0,611.4 928.9,610.9 928.2,608.1 925.8,606.9 924.4,604.8 922.5,603.1 921.4,600.5 920.3,597.9 919.7,595.2 918.9,592.5 917.6,590.3 915.1,589.2 913.4,587.4 911.8,585.4 910.4,583.2 907.8,582.3 906.2,580.3 904.7,578.2 902.9,576.5 901.1,574.7 898.8,573.5 897.6,571.0 895.4,569.7 893.5,568.0 891.0,566.7 889.5,564.5 887.2,563.0 886.0,560.5 883.9,558.8 881.7,557.3 880.0,555.2 878.5,553.0 879.2,550.5 880.1,548.1 880.0,545.4 881.0,543.0 879.4,541.0 878.0,539.0 876.6,536.9 875.7,534.5 873.5,533.0 872.4,530.6 873.0,527.9 872.1,525.5 872.3,522.8 871.0,520.5 871.9,518.1 871.0,515.3 871.6,512.8 873.6,510.6 873.5,508.0 872.6,505.6 872.7,503.0 871.2,500.7 871.6,498.0 871.0,495.5 869.2,493.1 867.6,490.5 866.0,488.0 865.9,485.2 868.4,483.3 868.5,480.5 867.4,477.6 865.6,475.2 863.5,473.0 861.8,471.0 859.4,469.6 857.4,467.8 856.0,465.5 853.5,464.8 851.0,465.8 848.5,465.7 846.0,464.7 843.5,465.5 841.3,463.7 840.2,460.8 837.1,459.9 836.0,457.0 833.5,455.5 830.8,454.9 828.2,454.2 826.0,452.6 823.7,450.9 821.0,450.5 819.0,448.4 818.5,445.5 816.9,443.5 815.6,441.3 813.3,439.9 810.7,438.6 809.4,436.0 807.5,434.1 804.9,433.0 802.6,431.3 800.6,429.2 797.8,428.3 794.6,427.8 791.3,427.4 788.2,426.3 785.5,426.2 783.2,424.4 780.4,424.4 777.8,426.0 774.7,426.3 772.0,426.5 769.3,426.7 766.9,428.3 765.3,430.7 763.6,433.1 763.1,436.0 761.7,438.9 759.0,440.7 757.1,443.1 755.3,445.7 753.4,448.3 750.6,449.7 748.3,451.8 745.7,453.4 743.7,455.5 741.0,456.5 738.8,458.5 736.0,459.2 733.2,459.0 731.0,461.1 728.3,461.1 725.7,460.4 723.2,459.4 720.5,459.2 718.4,457.1 718.8,453.7 716.7,451.5 714.7,449.3 711.9,448.5 709.4,447.1 707.0,445.7 704.9,443.6 702.3,442.6 699.4,441.8 697.3,439.9 695.2,438.1 692.3,438.5 690.1,436.9 687.7,436.0 684.5,435.3 681.3,434.2 678.0,434.1 675.2,433.8 672.7,432.7 669.8,432.9 667.3,431.4 664.5,431.2 661.8,432.0 659.0,431.8 656.2,431.5 653.4,431.3 650.6,431.0 647.8,431.0 645.1,432.1 641.9,432.8 638.9,434.3 635.5,434.1 632.9,434.5 630.3,435.2 627.6,435.5 625.4,437.5 622.4,436.7 620.0,437.9 617.8,439.9 615.0,440.5 612.2,441.2 609.6,442.1 607.5,444.2 605.0,445.5 602.5,446.8 599.9,447.7 597.8,449.9 595.0,450.5 592.6,449.8 590.1,449.0 587.6,448.4 585.1,448.4 582.6,448.0 580.0,448.0 580.9,445.5 579.8,443.0 579.7,440.5 580.0,438.0 580.1,434.8 577.5,432.4 577.5,429.2 575.0,429.6 572.5,429.2 571.7,431.9 570.9,434.5 570.8,437.2 571.7,440.0 570.1,442.6 570.9,445.4 570.0,448.0 567.5,447.9 565.0,447.8 562.5,447.0 560.0,448.6 557.5,448.0 555.0,448.6 552.5,448.9 550.0,449.2 547.6,449.7 545.0,449.2 542.5,449.6 540.0,450.1 537.5,450.3 535.0,450.0 531.9,450.5 529.5,453.0 526.3,453.4 523.3,454.4 520.6,456.1 517.3,456.1 514.6,458.1 511.0,457.9 508.2,459.7 507.6,462.6 507.3,465.5 509.0,468.3 507.6,471.2 508.2,474.1 510.3,475.6 511.9,477.7 513.2,480.7 515.5,483.1 512.7,484.8 510.0,486.8 506.4,488.6 505.0,491.1 503.2,493.3 501.9,495.8 501.9,499.5 501.0,503.0 501.8,505.7 502.8,508.4 504.9,510.2 507.5,511.1 510.0,512.0 512.0,513.8 514.1,515.5 517.2,515.4 519.1,517.4 521.3,519.1 523.5,520.6 526.3,521.0 528.0,522.9 530.1,524.4 531.7,526.4 529.7,528.0 528.7,530.6 526.3,531.9 524.1,530.2 521.7,529.0 519.1,528.2 516.1,527.2 514.3,524.5 511.9,522.8 509.5,521.0 507.3,518.8 504.6,517.4 501.5,516.3 498.3,515.8 495.6,513.8 493.4,516.4 490.2,517.4 487.7,519.6 484.8,521.0 482.5,523.5 479.4,524.6 477.3,526.4 474.5,526.8 472.2,528.2 469.5,527.8 467.2,529.6 464.6,529.2 462.0,529.7 459.5,530.1 456.6,531.7 454.1,533.7 451.4,534.3 449.7,536.6 447.3,537.6 445.1,539.1 442.4,539.6 439.8,540.7 437.0,540.5 434.3,540.9 432.0,538.7 429.1,537.8 425.9,537.4 423.5,535.5 420.9,535.1 418.3,534.7 415.8,533.5 413.3,532.7 410.8,531.9 408.3,530.4 406.8,528.1 405.0,526.0 403.0,523.5 399.9,522.8 397.5,521.0 395.0,520.5 392.6,519.7 390.0,520.6 387.5,520.5 385.0,520.0 382.5,519.8 379.9,520.0 377.4,519.9 374.9,519.4 372.5,518.0 370.0,518.0 367.3,518.4 364.8,519.4 362.8,521.5 360.0,521.8 357.5,522.0 355.1,520.6 352.5,520.8 350.0,521.3 347.5,520.5 345.0,521.3 342.4,521.5 340.0,520.5 337.8,518.7 335.3,517.8 332.5,517.5 329.9,516.7 327.5,515.5 325.1,514.3 322.5,514.7 320.1,513.5 317.4,515.0 315.0,513.4 312.4,513.8 310.0,513.0 307.4,513.0 304.8,513.0 302.6,515.2 299.9,514.3 297.4,514.5 295.0,515.5 292.6,516.7 289.9,516.3 287.4,516.4 284.9,517.1 282.4,517.5 279.9,518.0 277.3,519.0 274.5,519.7 271.8,520.5 269.0,520.7 265.5,521.6 262.3,523.4 260.5,525.6 257.7,526.0 255.5,527.5 252.7,528.5 250.1,530.3 247.4,531.5 245.1,532.7 242.4,533.0 240.3,534.6 237.9,535.6 235.7,538.3 232.5,539.6 230.0,541.1 227.4,542.5 225.7,545.0 222.4,546.3 220.3,549.1 218.0,550.4 217.3,553.3 214.9,554.5 212.8,557.1 210.9,559.9 209.3,563.0 206.8,565.3 203.7,566.8 201.4,569.4 199.5,571.4 196.9,572.1 194.6,573.5 192.0,574.2 190.4,576.7 187.9,577.5 185.0,577.9 182.2,578.4 179.8,580.2 177.5,581.3 175.1,582.3 173.0,584.0 170.3,584.3 167.5,584.6 165.7,587.1 162.8,587.1 160.4,588.2 158.1,589.7 155.7,591.9 152.2,592.5 150.0,595.1 147.7,596.4 146.5,598.7 145.0,600.8 142.6,602.4 140.0,603.7 137.6,605.2 134.8,606.3 132.0,607.2 130.0,609.5 128.8,611.9 126.7,613.4 124.6,614.8 122.7,616.5 120.8,618.2 118.7,619.6 117.5,622.0 115.5,623.8 114.9,626.4 113.4,628.5 111.7,630.5 109.6,632.2 109.4,635.2 107.5,637.0 106.9,639.8 105.3,642.2 103.4,644.3 102.3,646.9 101.4,649.6 100.0,652.0 99.2,654.5 98.0,656.9 96.8,659.3 97.5,662.3 95.8,664.5 95.0,667.0 95.7,669.6 94.0,672.0 94.4,674.5 93.3,676.9 93.6,679.5 93.8,682.0 93.5,684.6 94.4,687.0 94.1,689.6 95.5,691.9 96.0,694.4 95.4,697.0 95.9,699.5 96.2,702.0 96.7,704.5 96.7,707.1 97.8,709.5 98.1,712.1 98.6,714.6 99.6,717.0 100.0,719.5 100.0,722.1 100.7,724.6 101.4,727.0 101.4,729.7 102.4,732.1 103.3,734.5 103.8,737.0 104.7,739.4 103.9,742.1 104.1,744.6 105.6,747.0 105.6,749.5 106.2,752.0 106.1,754.5 105.8,757.0 106.2,759.5 106.2,762.0 105.1,764.7 104.2,767.4 104.5,770.5 102.8,773.1 102.5,776.0" fill="none" stroke="#FFFFFF" stroke-width="2" stroke-linejoin="round"/>
<polyline points="247.4,530.8 244.4,530.1 242.0,528.1 239.5,529.5 236.6,529.3 234.1,530.7 231.2,530.8 232.7,528.6 235.2,527.5 235.1,524.5 235.0,521.5 234.6,518.6 235.0,515.6 235.2,512.6 232.5,513.9 231.2,516.8 228.5,518.0 227.7,520.6 226.6,523.0 224.4,524.8 220.3,523.4 217.4,522.5 214.9,520.7 217.6,522.0 218.9,525.0 217.6,528.5 219.0,531.5 221.9,532.5 224.4,534.2 223.7,537.0 225.6,539.5 225.1,542.3 222.1,544.5 220.3,547.8 217.6,549.1 214.7,550.1 212.2,551.8 211.2,555.1 210.9,558.6 210.0,561.5 208.2,564.0 205.7,565.8 202.6,566.3 200.0,568.0 197.8,569.9 195.4,571.4 192.3,571.3 190.0,573.0 187.4,573.8 185.2,575.4 182.5,576.0 179.7,576.2 177.7,578.4 175.0,579.0 172.9,580.7 170.3,581.2 168.1,582.6 165.5,583.2 163.0,584.0 159.7,582.8 157.5,580.0 154.7,581.2 152.2,582.8 150.0,585.0 147.4,584.2 145.0,583.0 143.1,581.2 141.3,579.3 140.0,577.0 136.9,578.9 135.0,582.0 135.6,584.8 137.2,587.1 139.3,589.2 140.0,592.0 142.0,593.6 142.6,596.3 145.0,597.6 145.7,600.2 147.5,602.0 145.0,602.5 142.6,603.6 140.1,603.7 137.4,602.6 135.1,604.1 132.5,603.8 130.0,604.5 127.9,601.6 125.0,599.5 124.6,602.0 123.8,604.5 122.4,606.8 122.5,609.5 121.2,611.9 120.8,614.5 120.0,617.0 117.5,616.3 115.0,615.9 112.5,615.3 110.0,614.5 108.0,616.8 107.1,619.8 105.0,622.0 105.6,624.8 107.5,627.0 106.2,629.7 104.6,632.3 102.5,634.5 100.0,633.6 97.5,635.5 95.0,634.7 92.5,634.4 90.0,634.6 87.5,634.5 88.9,636.8 91.0,638.5 93.1,640.1 95.0,642.0 98.2,643.8 100.0,647.0 97.9,649.1 97.5,652.0 96.9,654.6 96.1,657.1 95.5,659.7 94.7,662.2 94.1,664.8 92.5,667.0 89.7,666.4 87.5,664.5 85.1,663.5 82.4,663.6 80.0,662.6 77.5,662.0 78.9,664.7 81.5,666.5 82.5,669.5 85.4,671.2 88.8,672.0 89.0,674.6 87.5,676.9 87.0,679.4 87.5,682.0 87.0,684.5 86.6,687.1 85.6,689.5 84.2,691.8 83.4,694.3 83.8,697.0 87.5,699.5 87.5,702.1 88.5,704.5 88.9,707.0 88.8,709.6 89.9,711.9 90.0,714.5 90.2,717.2 91.8,719.4 92.1,722.0 93.0,724.5 93.8,727.0 94.3,729.5 94.3,732.2 94.9,734.7 96.2,737.0 96.7,739.7 97.9,742.1 99.3,744.4 100.0,747.0 100.8,749.4 101.2,752.0" fill="none" stroke="#FFFFFF" stroke-width="2" stroke-linejoin="round"/>
<polyline points="0.0,722.0 2.5,722.8 5.1,723.1 7.3,724.8 10.1,724.5 12.5,725.6 15.1,726.0 17.5,727.0 20.1,728.5 22.0,731.1 25.0,732.0 27.8,732.3 30.0,733.9 32.7,734.5 35.1,735.7 37.5,737.0 39.5,739.4 42.7,739.7 44.9,741.7 47.6,742.9 50.0,744.5 52.4,745.2 55.0,745.0 57.6,744.7 60.0,745.5 62.5,745.7 64.9,746.7 67.5,746.6 70.1,746.1 72.5,747.0 74.8,748.8 77.7,749.7 80.0,751.5 82.8,752.5 85.0,754.5 88.0,755.6 90.6,757.5 93.8,758.2 94.4,755.1 95.0,752.0 97.6,752.2 100.1,751.9 102.5,751.2 105.0,750.8" fill="none" stroke="#FFFFFF" stroke-width="2" stroke-linejoin="round"/>
<polyline points="986.5,553.4 997.2,549.8 1004.3,564.0 1002.5,578.2 990.0,576.5 979.4,569.4 982.9,560.5 986.5,553.4" fill="none" stroke="#FFFFFF" stroke-width="2" stroke-linejoin="round"/>
<polyline points="455.9,465.1 463.1,462.4 472.2,463.3 479.4,468.7 484.8,469.6 486.6,474.1 479.4,477.7 472.2,479.5 459.5,480.4 454.1,475.9 455.9,465.1" fill="none" stroke="#FFFFFF" stroke-width="2" stroke-linejoin="round"/>
<polyline points="445.5,468.0 450.0,467.0 452.3,471.0 450.0,474.1 446.0,473.0 445.5,468.0" fill="none" stroke="#FFFFFF" stroke-width="2" stroke-linejoin="round"/>
<polyline points="485.0,478.5 492.0,478.0 495.6,482.0 494.0,486.8 487.0,486.0 485.0,478.5" fill="none" stroke="#FFFFFF" stroke-width="2" stroke-linejoin="round"/>
<polyline points="535.0,473.0 538.8,483.0 535.0,493.0" fill="none" stroke="#FFFFFF" stroke-width="2" stroke-linejoin="round"/>
<polyline points="537.0,460.5 556.0,460.5" fill="none" stroke="#FFFFFF" stroke-width="2" stroke-linejoin="round"/>
<polyline points="879.8,527.1 881.6,529.3 882.9,531.8 887.5,533.3 890.3,531.5 892.1,528.7 893.0,532.1 895.2,534.9 893.8,537.8 893.7,541.1 891.8,543.1 890.6,545.7 889.2,548.7 889.0,551.9 888.2,555.3 886.0,558.1 884.4,555.0 883.0,551.8 881.3,548.8 879.9,546.4 879.6,543.5 878.2,541.1 877.6,538.0 877.3,534.9 876.7,531.8 878.3,529.5 879.8,527.1" fill="none" stroke="#FFFFFF" stroke-width="2" stroke-linejoin="round"/>
<polyline points="498.0,470.0 500.7,469.5 503.0,468.0 506.3,469.0 508.0,472.0 510.6,471.3 513.0,470.0 514.9,472.8 518.0,474.0 516.0,476.7 516.0,480.0 513.0,479.0 510.0,478.0 507.3,479.7 505.0,482.0 507.5,483.0 509.6,484.7 512.0,486.0 511.0,489.7 508.0,492.0 505.7,490.5 503.0,490.0 501.2,492.9 500.0,496.0" fill="none" stroke="#FFFFFF" stroke-width="2" stroke-linejoin="round"/>
<polyline points="497.0,500.0 499.2,502.8 502.0,505.0 504.4,503.8 507.0,503.0 505.4,506.3 505.0,510.0 508.9,509.7 512.0,512.0 514.7,514.5 518.0,516.0 521.2,517.7 524.0,520.0 526.8,522.3 530.0,524.0 532.7,525.3 534.0,528.0 533.4,531.1 532.0,534.0 529.9,536.1 527.0,537.0 523.4,536.5 520.0,535.0" fill="none" stroke="#FFFFFF" stroke-width="2" stroke-linejoin="round"/>
<polyline points="500.0,462.0 503.4,463.4 506.0,466.0 508.9,464.3 512.0,463.0 515.3,463.8 518.0,466.0 519.8,463.8 522.0,462.0" fill="none" stroke="#FFFFFF" stroke-width="2" stroke-linejoin="round"/>
<polyline points="532.0,468.0 533.4,470.3 534.3,472.9 536.0,475.0 537.1,477.6 537.5,480.3 538.0,483.0 537.0,486.4 537.0,490.0 535.8,492.3 535.3,494.8 534.0,497.0" fill="none" stroke="#FFFFFF" stroke-width="2" stroke-linejoin="round"/>
<polyline points="524.0,506.0 528.0,502.0" fill="none" stroke="#FFFFFF" stroke-width="2" stroke-linejoin="round"/>
<polyline points="519.0,511.0 522.0,508.0" fill="none" stroke="#FFFFFF" stroke-width="2" stroke-linejoin="round"/>
<polyline points="960.2,455.5 963.5,455.4 966.4,457.0 968.5,458.9 971.4,459.5 973.4,461.6 975.7,463.2 977.4,465.7 979.1,468.2 981.5,470.1 983.4,472.5 982.9,475.1 983.3,477.8 981.8,480.2" fill="none" stroke="#FFFFFF" stroke-width="2" stroke-linejoin="round"/>
<polyline points="961.7,458.6 963.4,460.5 964.7,462.8 965.8,465.2 968.4,466.4 969.9,468.5 971.0,470.9 973.4,472.9 974.8,475.5 976.5,477.8 977.8,480.5 978.8,483.3 980.7,485.6 981.9,488.6 984.3,490.5 986.5,492.6" fill="none" stroke="#FFFFFF" stroke-width="2" stroke-linejoin="round"/>
<polyline points="372.0,505.0 378.0,502.0 382.0,506.0 377.0,510.0 372.0,505.0" fill="none" stroke="#FFFFFF" stroke-width="2" stroke-linejoin="round"/>
<polyline points="381.0,510.0 387.0,508.0 390.0,513.0 384.0,515.0 381.0,510.0" fill="none" stroke="#FFFFFF" stroke-width="2" stroke-linejoin="round"/>
<polyline points="389.0,515.0 395.0,513.0 398.0,518.0 392.0,521.0 389.0,515.0" fill="none" stroke="#FFFFFF" stroke-width="2" stroke-linejoin="round"/>
<polyline points="617.0,429.0 624.0,427.0 628.0,432.0 621.0,434.0 617.0,429.0" fill="none" stroke="#FFFFFF" stroke-width="2" stroke-linejoin="round"/>
<polyline points="686.0,431.0 693.0,430.0 695.0,435.0 688.0,436.0 686.0,431.0" fill="none" stroke="#FFFFFF" stroke-width="2" stroke-linejoin="round"/>
<polyline points="737.0,462.0 739.7,460.7 742.2,459.1 745.0,458.0 747.4,456.1 749.5,453.8 752.0,452.0 754.0,450.0 756.3,448.3 757.7,445.7 760.0,444.0 761.9,441.5 764.1,439.4 766.0,437.0" fill="none" stroke="#FFFFFF" stroke-width="2" stroke-linejoin="round"/>
<polyline points="1004.0,706.0 1002.2,707.8 1000.0,709.0 998.3,710.9 996.0,712.0 993.4,713.2 991.6,715.7 989.0,717.0" fill="none" stroke="#FFFFFF" stroke-width="2" stroke-linejoin="round"/>
<polyline points="962.0,727.0 963.0,728.5" fill="none" stroke="#FFFFFF" stroke-width="2" stroke-linejoin="round"/>
<rect x="984.5" y="719.5" width="5" height="5" fill="none" stroke="#FFBF80" stroke-width="1"/>
<polyline points="128.8,428.0 150.0,432.0 175.0,436.8 212.5,443.0 250.0,446.0 265.0,448.0 290.0,453.0 315.0,463.0 340.0,478.0 365.0,490.5 385.0,503.0 400.0,515.5 415.0,528.0 427.5,540.5 440.0,555.5 450.0,570.5 456.1,579.4 463.0,594.0 469.3,609.1 475.9,635.5 479.2,658.6 484.2,691.6 489.1,724.6 492.4,746.1" fill="none" stroke="#FFFF00" stroke-width="2" stroke-linejoin="round"/>
<polyline points="146.2,421.8 128.8,428.0 143.8,440.5" fill="none" stroke="#FFFF00" stroke-width="2" stroke-linejoin="round"/>
<line x1="225" y1="584" x2="279.9" y2="584" stroke="#FFBF80" stroke-width="2"/>
<line x1="223" y1="622" x2="279.9" y2="622" stroke="#FF8000" stroke-width="2"/>
<line x1="222.3" y1="665" x2="282.1" y2="665" stroke="#FF0000" stroke-width="2"/>
<line x1="218.1" y1="709" x2="282.1" y2="709" stroke="#8B0000" stroke-width="2"/>
<line x1="220.9" y1="754" x2="282.7" y2="754" stroke="#9030F0" stroke-width="2"/>
</svg></body></html>
